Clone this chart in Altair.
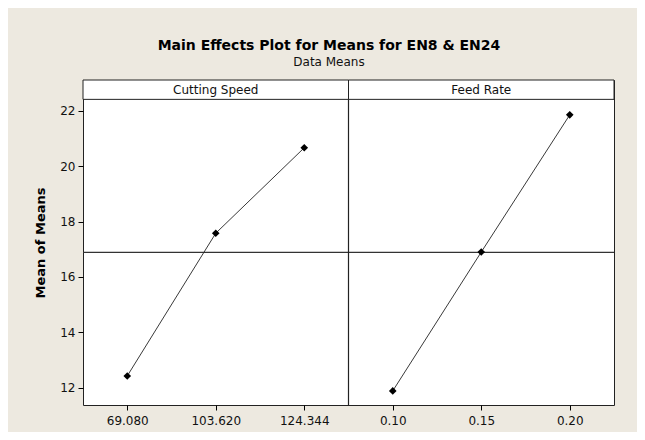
import altair as alt
import pandas as pd

# ---- data ----
factors = ["Cutting Speed", "Feed Rate"]
cutting_speed_levels = ["69.080", "103.620", "124.344"]
feed_rate_levels = ["0.10", "0.15", "0.20"]
cutting_speed_means = [12.42, 17.58, 20.67]
feed_rate_means = [11.88, 16.90, 21.86]
y_ticks = [12, 14, 16, 18, 20, 22]

# layout of the value axis (data units)
y_min, y_plot_top, y_strip_top = 11.37, 22.42, 23.12

FONT = "Tahoma, 'DejaVu Sans', sans-serif"
BG = "#EDE9E0"

levels = cutting_speed_levels + feed_rate_levels
means = cutting_speed_means + feed_rate_means
rows = []
for i, (lvl, m) in enumerate(zip(levels, means)):
    rows.append({"factor": factors[0] if i < 3 else factors[1],
                 "level": lvl, "pos": i, "mean": m})
df = pd.DataFrame(rows)
grand_mean = sum(means) / len(means)

n_cs = len(cutting_speed_levels)
n_all = len(levels)
strip_df = pd.DataFrame({
    "factor": factors,
    "x0": [-0.5, n_cs - 0.5],
    "x1": [n_cs - 0.5, n_all - 0.5],
    "xm": [(n_cs - 1) / 2, n_cs + (n_all - n_cs - 1) / 2],
    "y0": [y_plot_top, y_plot_top],
    "y1": [y_strip_top, y_strip_top],
    "ym": [(y_plot_top + y_strip_top) / 2] * 2,
})
divider_df = pd.DataFrame({"x": [n_cs - 0.5], "y0": [y_min], "y1": [y_plot_top]})
mean_df = pd.DataFrame({"gm": [grand_mean]})

label_expr = "[" + ",".join("'" + l + "'" for l in levels) + "][datum.value]"

xscale = alt.Scale(domain=[-0.5, n_all - 0.5], nice=False, zero=False)
yscale = alt.Scale(domain=[y_min, y_strip_top], nice=False, zero=False)

x_axis = alt.Axis(values=list(range(n_all)), labelExpr=label_expr, grid=False,
                  domain=False, tickSize=5, tickColor="#000", labelColor="#111",
                  labelFont=FONT, labelFontSize=12, labelPadding=5, title=None)
y_axis = alt.Axis(values=y_ticks, format="d", grid=False, domain=False,
                  tickSize=5, tickColor="#000", labelColor="#111",
                  labelFont=FONT, labelFontSize=12, labelPadding=3,
                  title="Mean of Means", titleFont=FONT, titleFontSize=13,
                  titleFontWeight="bold", titleColor="#000", titlePadding=12)

points = alt.Chart(df).mark_point(shape="diamond", filled=True, color="#000",
                                  size=58, opacity=1).encode(
    x=alt.X("pos:Q", scale=xscale, axis=x_axis),
    y=alt.Y("mean:Q", scale=yscale, axis=y_axis),
)
lines = alt.Chart(df).mark_line(color="#222", strokeWidth=0.9).encode(
    x="pos:Q", y="mean:Q", detail="factor:N")

mean_rule = alt.Chart(mean_df).mark_rule(color="#333", strokeWidth=1.2).encode(
    y="gm:Q")
divider = alt.Chart(divider_df).mark_rule(color="#222", strokeWidth=1.2).encode(
    x="x:Q", y="y0:Q", y2="y1:Q")
strip = alt.Chart(strip_df).mark_rect(fill="white", stroke="#222",
                                      strokeWidth=1).encode(
    x="x0:Q", x2="x1:Q", y="y0:Q", y2="y1:Q")
strip_text = alt.Chart(strip_df).mark_text(font=FONT, fontSize=12,
                                           color="#111").encode(
    x="xm:Q", y="ym:Q", text="factor:N")

chart = alt.layer(strip, mean_rule, divider, lines, points, strip_text).properties(
    width=531, height=325,
    title=alt.TitleParams(
        text="Main Effects Plot for Means for EN8 & EN24",
        subtitle="Data Means",
        font=FONT, fontSize=14, fontWeight="bold", color="#000",
        subtitleFont=FONT, subtitleFontSize=12, subtitleColor="#111",
        subtitlePadding=4, anchor="middle", dx=-19.5, offset=12),
    autosize=alt.AutoSizeParams(type="none"),
    padding={"left": 75, "top": 72, "right": 23, "bottom": 27},
    background=BG,
).configure_view(fill="white", stroke="#222", strokeWidth=1)

chart.save("out.html", embed_options={"renderer": "svg", "actions": False})
